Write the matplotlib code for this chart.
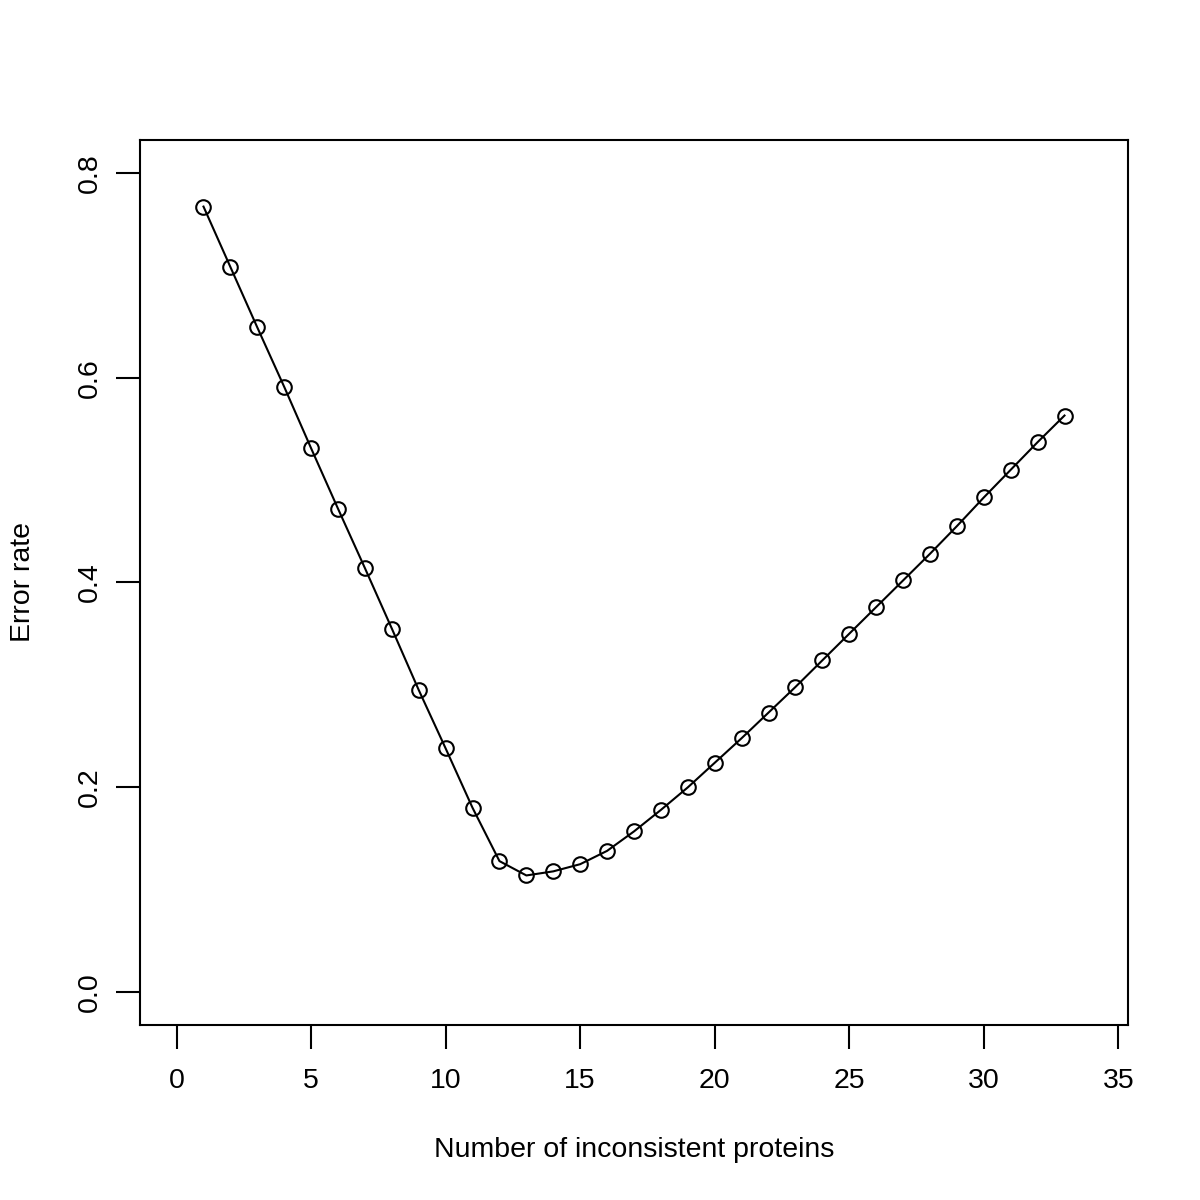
import matplotlib
matplotlib.use("Agg")
import matplotlib.pyplot as plt

n_proteins = list(range(1, 34))
error_rate = [0.767, 0.708, 0.649, 0.591, 0.531, 0.472, 0.414, 0.355, 0.295, 0.238,
              0.180, 0.128, 0.114, 0.118, 0.125, 0.138, 0.157, 0.178, 0.200, 0.224,
              0.248, 0.273, 0.298, 0.324, 0.350, 0.376, 0.402, 0.428, 0.455, 0.483,
              0.510, 0.537, 0.563]
x_ticks = [0, 5, 10, 15, 20, 25, 30, 35]
y_ticks = [0.0, 0.2, 0.4, 0.6, 0.8]

plt.rcParams["font.family"] = ["Liberation Sans", "DejaVu Sans"]

fig = plt.figure(figsize=(12, 12), dpi=100)
ax = fig.add_axes([140 / 1200, 1 - 1025 / 1200, 988 / 1200, 885 / 1200])

ax.plot(n_proteins, error_rate, color="black", lw=1.5, marker="o", ms=10.5,
        mfc="none", mec="black", mew=1.5)

ax.set_xlim(-1.36, 35.36)
ax.set_ylim(-0.032, 0.832)
ax.set_xticks(x_ticks)
ax.set_xticklabels([str(t) for t in x_ticks])
ax.set_yticks(y_ticks)
ax.set_yticklabels([f"{t:.1f}" for t in y_ticks], rotation=90, va="center")
ax.tick_params(direction="out", length=17, width=1.5, labelsize=20.5)
ax.tick_params(axis="x", pad=14)
ax.tick_params(axis="y", pad=10)
for s in ax.spines.values():
    s.set_linewidth(1.5)

ax.set_xlabel("Number of inconsistent proteins", fontsize=20.5, labelpad=31)
ax.set_ylabel("Error rate", fontsize=20.5, labelpad=29)

fig.savefig("out.png", dpi=100)
